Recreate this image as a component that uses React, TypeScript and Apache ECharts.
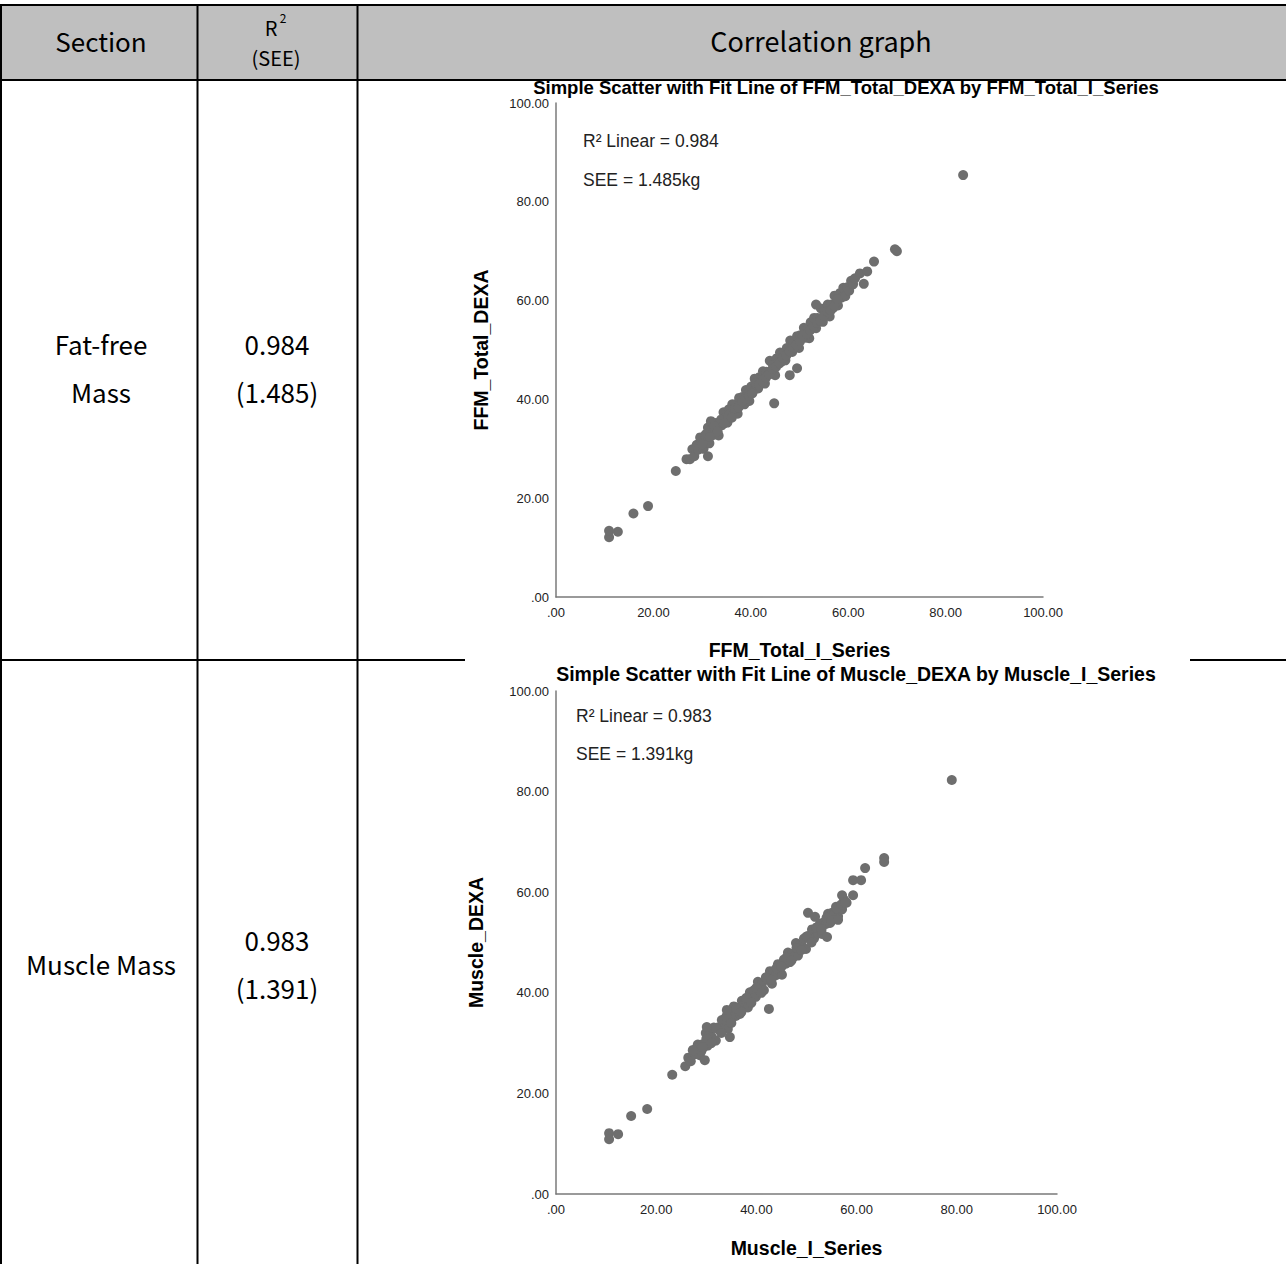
import React, { useEffect, useRef } from "react";
import * as echarts from "echarts";

// ---------- DATA ----------
const headerLabels = ["Section", "R2 (SEE)", "Correlation graph"];
const sectionNames = ["Fat-free Mass", "Muscle Mass"];
const r2Values = ["0.984", "0.983"];
const seeValues = ["(1.485)", "(1.391)"];
const chartTitles = [
  "Simple Scatter with Fit Line of FFM_Total_DEXA by FFM_Total_I_Series",
  "Simple Scatter with Fit Line of Muscle_DEXA by Muscle_I_Series",
];
const xAxisNames = ["FFM_Total_I_Series", "Muscle_I_Series"];
const yAxisNames = ["FFM_Total_DEXA", "Muscle_DEXA"];
const r2Notes = ["R² Linear = 0.984", "R² Linear = 0.983"];
const seeNotes = ["SEE = 1.485kg", "SEE = 1.391kg"];

// Fat-free mass: [I_Series, DEXA]
const ffmPoints: number[][] = [
  [10.9, 12.1], [10.9, 13.4], [12.7, 13.2], [15.9, 16.9], [18.9, 18.4], [24.6, 25.5],
  [26.8, 27.9], [27.5, 27.9], [28.0, 29.9], [28.4, 28.5], [28.9, 30.8], [29.2, 29.8],
  [29.6, 32.3], [29.9, 31.2], [30.3, 30.0], [30.6, 32.7], [31.0, 31.8], [31.2, 34.3],
  [31.8, 35.6], [31.5, 31.1], [32.0, 33.9], [32.3, 32.8], [32.7, 35.2], [33.0, 34.2],
  [33.4, 32.7], [31.2, 28.5], [33.7, 35.5], [34.1, 34.8], [34.4, 37.4], [34.8, 36.2],
  [35.2, 35.3], [35.5, 38.0], [35.9, 37.1], [36.2, 39.0], [36.6, 37.2], [36.9, 39.0],
  [37.3, 37.1], [37.6, 40.3], [38.0, 39.2], [38.3, 40.5], [38.7, 39.0], [39.0, 41.9],
  [39.4, 41.1], [39.7, 39.7], [40.1, 42.6], [40.4, 41.5], [40.8, 44.2], [41.1, 42.6],
  [41.5, 42.2], [41.8, 44.5], [42.2, 44.1], [42.5, 45.7], [42.9, 43.2], [43.2, 45.6],
  [43.6, 45.0], [43.9, 47.8], [44.3, 45.4], [44.6, 46.9], [45.0, 44.9], [45.3, 48.3],
  [45.7, 47.5], [46.0, 49.5], [46.4, 47.7], [46.7, 49.4], [47.1, 47.9], [47.4, 50.4],
  [47.8, 49.8], [48.1, 51.9], [48.5, 49.6], [48.8, 51.4], [49.2, 50.9], [49.5, 52.8],
  [49.9, 50.4], [50.2, 53.0], [50.6, 52.5], [50.9, 54.5], [51.3, 52.5], [51.6, 54.2],
  [52.0, 52.4], [52.3, 55.6], [52.7, 54.6], [53.0, 56.5], [53.4, 54.4], [53.7, 56.5],
  [54.1, 55.8], [54.4, 58.4], [54.8, 55.7], [55.1, 57.9], [55.5, 57.3], [55.8, 59.2],
  [56.2, 56.8], [56.5, 59.2], [56.9, 58.5], [57.2, 61.0], [57.6, 59.8], [57.9, 59.0],
  [58.3, 61.5], [58.6, 60.6], [59.0, 62.6], [59.4, 60.9], [59.8, 62.7], [60.2, 62.0],
  [60.6, 64.0], [61.0, 63.3],
  [30.0, 30.9], [30.8, 33.0], [31.6, 32.4], [32.5, 34.6], [33.2, 33.5], [33.9, 35.9],
  [34.6, 35.2], [35.4, 36.6], [36.1, 36.3], [36.8, 38.2], [37.5, 38.4], [38.2, 39.6],
  [38.9, 40.2], [39.6, 40.8], [40.3, 41.2], [41.0, 43.3], [41.7, 43.0], [42.4, 43.6],
  [43.1, 44.4], [43.8, 45.1], [44.5, 46.2], [45.2, 46.6], [45.9, 47.3], [46.6, 48.4],
  [47.3, 48.9], [48.0, 49.7], [48.7, 50.4], [49.4, 51.0], [50.1, 51.7], [50.8, 52.8],
  [51.5, 53.3], [52.2, 54.0], [52.9, 54.8], [53.6, 55.5], [54.3, 55.9], [55.0, 56.9],
  [55.7, 57.8], [56.4, 58.0], [57.1, 58.9], [57.8, 60.3],
  [44.8, 39.2], [48.0, 44.9], [49.5, 46.3], [53.4, 59.2], [61.4, 64.5], [62.4, 65.5],
  [63.2, 63.4], [63.9, 65.9], [65.3, 67.9], [69.6, 70.4], [70.0, 70.0], [83.6, 85.4],
];

// Muscle mass: [I_Series, DEXA]
const musclePoints: number[][] = [
  [10.6, 12.1], [10.6, 10.9], [12.4, 11.9], [15.0, 15.5], [18.2, 16.9], [23.2, 23.7],
  [25.8, 25.4], [26.4, 27.1], [26.9, 26.4], [27.4, 28.6], [27.8, 27.8], [28.3, 29.7],
  [28.7, 27.6], [29.1, 29.7], [29.5, 29.2], [29.9, 32.0], [30.3, 29.5], [30.7, 31.6],
  [31.1, 31.2], [31.5, 33.1], [31.9, 30.5], [32.3, 33.1], [32.7, 32.5], [33.1, 34.6],
  [33.5, 32.9], [33.9, 34.5], [34.3, 32.8], [34.7, 35.9], [35.1, 35.2], [35.5, 37.3],
  [35.9, 35.4], [36.3, 37.0], [36.7, 35.8], [37.1, 38.4], [37.5, 37.4], [37.9, 38.4],
  [38.3, 37.1], [38.7, 40.1], [39.1, 39.3], [39.5, 40.5], [39.9, 39.2], [40.3, 42.2],
  [40.7, 40.5], [41.1, 41.8], [41.5, 40.5], [41.9, 43.1], [42.3, 42.6], [42.7, 44.3],
  [43.1, 41.8], [43.5, 44.3], [43.9, 43.5], [44.3, 45.7], [44.7, 44.8], [45.1, 43.6],
  [45.5, 46.6], [45.9, 45.8], [46.3, 48.0], [46.7, 46.1], [47.1, 47.7], [47.5, 47.2],
  [47.9, 49.9], [48.3, 47.4], [48.7, 49.5], [49.1, 49.3], [49.5, 50.8], [49.9, 48.7],
  [50.3, 51.3], [50.7, 50.7], [51.1, 52.6], [51.5, 50.8], [51.9, 52.6], [52.3, 51.8],
  [52.7, 53.8], [53.1, 51.7], [53.5, 54.0], [53.9, 53.7], [54.3, 55.7], [54.7, 53.9],
  [55.1, 55.9], [55.5, 55.6], [55.9, 57.1], [56.3, 55.2], [56.7, 57.3], [57.1, 56.6],
  [57.5, 58.5], [58.0, 57.9],
  [28.0, 28.9], [29.0, 28.4], [30.0, 30.8], [31.0, 30.0], [32.0, 32.9], [33.0, 32.0],
  [34.0, 35.3], [35.0, 34.0], [36.0, 36.9], [37.0, 36.2], [38.0, 39.0], [39.0, 38.0],
  [40.0, 41.0], [41.0, 40.0], [42.0, 43.0], [43.0, 42.6], [44.0, 44.9], [45.0, 45.2],
  [46.0, 47.0], [47.0, 46.4], [48.0, 48.9], [49.0, 48.5], [50.0, 51.2], [51.0, 50.0],
  [52.0, 53.0], [53.0, 52.6], [54.0, 54.9], [55.0, 54.3], [56.0, 56.8], [57.0, 57.6],
  [27.3, 28.6], [29.3, 29.2], [29.7, 26.6], [30.1, 33.2], [34.1, 36.6], [34.7, 31.2],
  [42.5, 36.8], [50.3, 55.9], [51.7, 55.1], [54.1, 51.1], [56.3, 54.5], [57.1, 59.4],
  [57.7, 57.9], [59.3, 59.4], [59.3, 62.4], [60.9, 62.4], [61.7, 64.8], [65.5, 66.8],
  [65.5, 66.0], [79.0, 82.3],
];

const axisTicks = [0, 20, 40, 60, 80, 100];

// ---------- LAYOUT ----------
const W = 1286;
const H = 1264;
const KR = '"Noto Sans CJK KR", "Noto Sans", sans-serif';
const AR = '"Liberation Sans", Arial, sans-serif';
const grids = [
  { left: 556, top: 103, width: 487, height: 494 },
  { left: 556, top: 691, width: 501, height: 503 },
];
const dotColor = "#6e6e6e";

function fmt(v: number) {
  return v === 0 ? ".00" : v.toFixed(2);
}

export default function App() {
  const ref = useRef<HTMLDivElement>(null);
  useEffect(() => {
    if (!ref.current) return;
    const chart = echarts.init(ref.current, null, { renderer: "svg" });

    const line = (x1: number, y1: number, x2: number, y2: number) => ({
      type: "line",
      shape: { x1, y1, x2, y2 },
      style: { stroke: "#000", lineWidth: 2 },
      silent: true,
      z: 1,
    });
    const text = (
      t: string,
      x: number,
      y: number,
      size: number,
      family: string,
      opts: { align?: string; fill?: string; bold?: boolean } = {}
    ) => {
      const align = opts.align || "center";
      return {
        type: "text",
        x,
        y,
        silent: true,
        z: 5,
        style: {
          text: t,
          font: `${opts.bold ? "bold " : ""}${size}px ${family}`,
          lineHeight: size,
          fill: opts.fill || "#000",
          textAlign: align,
          textVerticalAlign: "middle",
          align,
          verticalAlign: "middle",
        },
      };
    };

    const sec1 = sectionNames[0].split(" ");
    const graphic: any[] = [
      {
        type: "rect",
        shape: { x: 0, y: 5, width: W, height: 75 },
        style: { fill: "#bfbfbf" },
        silent: true,
        z: 0,
      },
      line(0, 5, W, 5),
      line(0, 80, W, 80),
      line(1, 5, 1, H),
      line(197.5, 5, 197.5, H),
      line(357.5, 5, 357.5, H),
      line(0, 660, 465, 660),
      line(1190, 660, W, 660),
      text(headerLabels[0], 101, 40, 26, KR),
      text("R", 271, 27, 20, KR),
      text("2", 283, 17, 12, KR),
      text("(SEE)", 276, 57, 20, KR),
      text(headerLabels[2], 821, 40, 27, KR),
      text(sec1[0], 101, 343, 26, KR),
      text(sec1[1], 101, 391, 26, KR),
      text(r2Values[0], 277, 343, 26, KR),
      text(seeValues[0], 277, 391, 26, KR),
      text(sectionNames[1], 101, 963, 26, KR),
      text(r2Values[1], 277, 939, 26, KR),
      text(seeValues[1], 277, 987, 26, KR),
      text(chartTitles[0], 846, 87, 18.5, AR, { bold: true }),
      text(chartTitles[1], 856, 674, 19.5, AR, { bold: true }),
      text(r2Notes[0], 583, 141, 17.5, AR, { align: "left", fill: "#222" }),
      text(seeNotes[0], 583, 180, 17.5, AR, { align: "left", fill: "#222" }),
      text(r2Notes[1], 576, 716, 17.5, AR, { align: "left", fill: "#222" }),
      text(seeNotes[1], 576, 754, 17.5, AR, { align: "left", fill: "#222" }),
    ];

    const axisCommon = {
      type: "value",
      min: axisTicks[0],
      max: axisTicks[axisTicks.length - 1],
      interval: axisTicks[1] - axisTicks[0],
      axisLine: { show: true, lineStyle: { color: "#7a7a7a", width: 1.5 } },
      axisTick: { show: false },
      splitLine: { show: false },
      nameLocation: "middle",
      nameTextStyle: { fontFamily: AR, fontWeight: "bold", fontSize: 19.5, color: "#000" },
    };

    const option: any = {
      animation: false,
      backgroundColor: "#fff",
      grid: grids.map((g) => ({ ...g, containLabel: false })),
      xAxis: [0, 1].map((i) => ({
        ...axisCommon,
        gridIndex: i,
        name: xAxisNames[i],
        nameGap: i === 0 ? 43 : 44,
        axisLabel: { formatter: fmt, color: "#222", fontSize: 13, fontFamily: AR, margin: 9 },
      })),
      yAxis: [0, 1].map((i) => ({
        ...axisCommon,
        gridIndex: i,
        name: yAxisNames[i],
        nameGap: i === 0 ? 65 : 70,
        nameRotate: 90,
        axisLabel: { formatter: fmt, color: "#222", fontSize: 13, fontFamily: AR, margin: 7 },
      })),
      series: [ffmPoints, musclePoints].map((d, i) => ({
        type: "scatter",
        xAxisIndex: i,
        yAxisIndex: i,
        data: d,
        symbol: "circle",
        symbolSize: 10,
        itemStyle: { color: dotColor, opacity: 1 },
        z: 3,
      })),
      graphic,
    };
    chart.setOption(option);
    return () => chart.dispose();
  }, []);

  return (
    <div
      ref={ref}
      style={{ position: "absolute", left: 0, top: 0, width: W, height: H, background: "#fff" }}
    />
  );
}
